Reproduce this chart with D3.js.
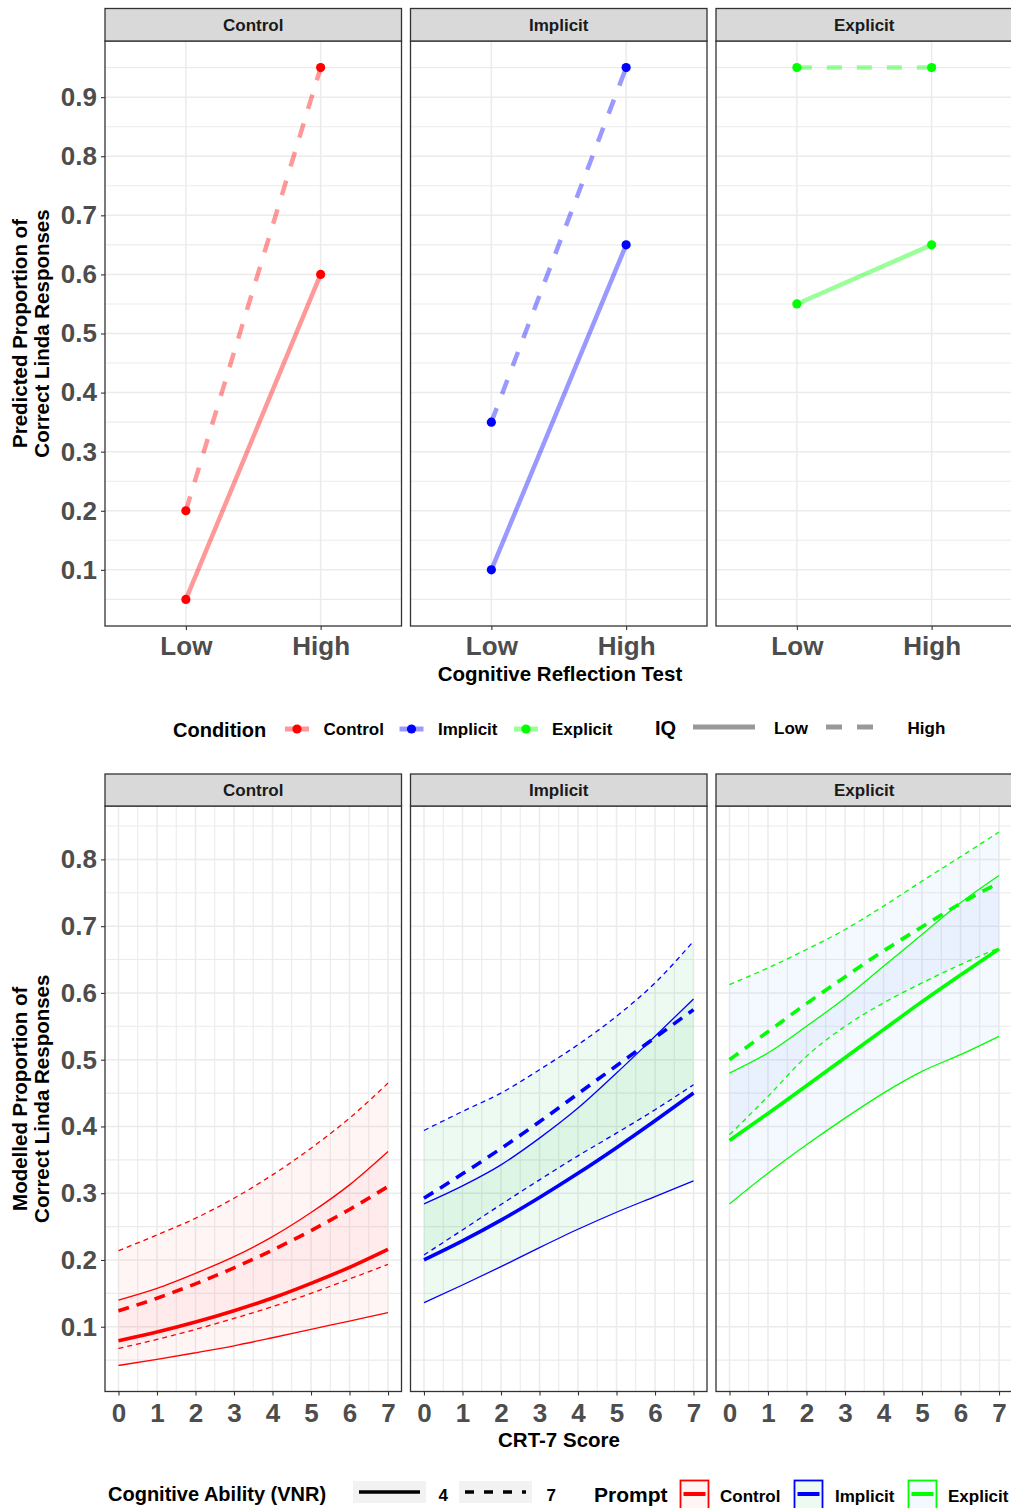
<!DOCTYPE html>
<html><head><meta charset="utf-8">
<script src="https://cdn.jsdelivr.net/npm/d3@7"></script>
<style>body{margin:0;background:#fff} svg{display:block} text{font-family:"Liberation Sans", Arial, Helvetica, sans-serif;}</style>
</head><body><svg id="chart" width="1011" height="1508"></svg>
<script>
// ---------------- DATA ----------------
const conditions = ["Control", "Implicit", "Explicit"];
const crtLevels = ["Low", "High"];
const iqLevels = ["Low", "High"];
// predicted proportion per condition: [CRT Low, CRT High]
const predLowIQ  = [[0.05, 0.60], [0.10, 0.65], [0.55, 0.65]];
const predHighIQ = [[0.20, 0.95], [0.35, 0.95], [0.95, 0.95]];
const topYTicks = [0.1, 0.2, 0.3, 0.4, 0.5, 0.6, 0.7, 0.8, 0.9];

const crtScores = [0, 1, 2, 3, 4, 5, 6, 7];
const bottomYTicks = [0.1, 0.2, 0.3, 0.4, 0.5, 0.6, 0.7, 0.8];
const vnrLevels = ["4", "7"];
// modelled proportions, one row per condition (Control, Implicit, Explicit), CRT 0..7
const vnr4Mean = [
  [0.079, 0.092, 0.107, 0.124, 0.143, 0.165, 0.189, 0.216],
  [0.200, 0.2285, 0.2596, 0.2936, 0.3298, 0.3682, 0.4085, 0.450],
  [0.379, 0.4195, 0.461, 0.503, 0.545, 0.587, 0.627, 0.666]];
const vnr4Upper = [
  [0.140, 0.1575, 0.180, 0.205, 0.235, 0.271, 0.3125, 0.3625],
  [0.284, 0.311, 0.3425, 0.3825, 0.4275, 0.480, 0.535, 0.591],
  [0.480, 0.510, 0.550, 0.5925, 0.640, 0.6875, 0.735, 0.776]];
const vnr4Lower = [
  [0.042, 0.051, 0.061, 0.0715, 0.0835, 0.096, 0.1085, 0.121],
  [0.136, 0.1625, 0.190, 0.2185, 0.246, 0.2715, 0.295, 0.3185],
  [0.284, 0.330, 0.3725, 0.4125, 0.450, 0.4825, 0.5075, 0.535]];
const vnr7Mean = [
  [0.1237, 0.1427, 0.1643, 0.1882, 0.2148, 0.244, 0.2757, 0.310],
  [0.2925, 0.329, 0.367, 0.407, 0.449, 0.491, 0.533, 0.575],
  [0.500, 0.542, 0.584, 0.624, 0.663, 0.699, 0.734, 0.765]];
const vnr7Upper = [
  [0.214, 0.2375, 0.2625, 0.2925, 0.3275, 0.3675, 0.4125, 0.465],
  [0.394, 0.4225, 0.450, 0.485, 0.5225, 0.565, 0.615, 0.6775],
  [0.6125, 0.6375, 0.665, 0.695, 0.730, 0.7675, 0.804, 0.841]];
const vnr7Lower = [
  [0.0675, 0.081, 0.096, 0.1125, 0.130, 0.150, 0.1715, 0.1935],
  [0.2075, 0.245, 0.283, 0.320, 0.356, 0.390, 0.425, 0.4625],
  [0.3875, 0.445, 0.505, 0.550, 0.585, 0.615, 0.6425, 0.6675]];

// ---------------- STYLE ----------------
const lineColors = ["#FF0000", "#0000FF", "#00FF00"];
const fillColors = ["#F8766D", "#00BA38", "#619CFF"];
const PW = 296.5;
const panelLefts = [105, 410.5, 716];
const gridCol = "#EBEBEB";

const svg = d3.select("#chart");
svg.append("rect").attr("width", 1011).attr("height", 1508).attr("fill", "#fff");

function strip(x0, top, bottom, label) {
  svg.append("rect").attr("x", x0).attr("y", top).attr("width", PW).attr("height", bottom - top)
    .attr("fill", "#D9D9D9").attr("stroke", "#333333").attr("stroke-width", 1.3);
  svg.append("text").attr("x", x0 + PW / 2).attr("y", (top + bottom) / 2 + 6)
    .attr("text-anchor", "middle").attr("font-size", 17).attr("font-weight", "bold")
    .attr("fill", "#1A1A1A").text(label);
}
function border(x0, top, bottom) {
  svg.append("rect").attr("x", x0).attr("y", top).attr("width", PW).attr("height", bottom - top)
    .attr("fill", "none").attr("stroke", "#333333").attr("stroke-width", 1.3);
}
function styleAxis(g, size) {
  g.select(".domain").remove();
  g.selectAll(".tick line").attr("stroke", "#333333").attr("stroke-width", 1.1);
  g.selectAll(".tick text").attr("fill", "#4D4D4D").attr("font-size", size).attr("font-weight", "bold")
    .style("font-family", '"Liberation Sans", Arial, sans-serif');
}
function yTitle(x1, x2, cy, l1, l2) {
  [[x1, l1], [x2, l2]].forEach(([x, t]) => {
    svg.append("text").attr("transform", `translate(${x},${cy}) rotate(-90)`)
      .attr("text-anchor", "middle").attr("font-size", 20.5).attr("font-weight", "bold")
      .attr("fill", "#000").text(t);
  });
}

// ================= TOP CHART =================
const tStripTop = 8.5, tTop = 41, tBottom = 626;
const yTop = d3.scaleLinear().domain([0.005, 0.995]).range([tBottom, tTop]);
const topMinor = [0.05, 0.15, 0.25, 0.35, 0.45, 0.55, 0.65, 0.75, 0.85, 0.95];

conditions.forEach((cond, ci) => {
  const x0 = panelLefts[ci];
  const xs = d3.scalePoint().domain(crtLevels).range([x0, x0 + PW]).padding(0.6);
  const g = svg.append("g");
  g.selectAll(".mn").data(topMinor).join("line").attr("x1", x0).attr("x2", x0 + PW)
    .attr("y1", d => yTop(d)).attr("y2", d => yTop(d)).attr("stroke", gridCol).attr("stroke-width", 1.1);
  g.selectAll(".mj").data(topYTicks).join("line").attr("x1", x0).attr("x2", x0 + PW)
    .attr("y1", d => yTop(d)).attr("y2", d => yTop(d)).attr("stroke", gridCol).attr("stroke-width", 1.5);
  g.selectAll(".vx").data(crtLevels).join("line").attr("x1", d => xs(d)).attr("x2", d => xs(d))
    .attr("y1", tTop).attr("y2", tBottom).attr("stroke", gridCol).attr("stroke-width", 1.5);

  const series = [
    {vals: predLowIQ[ci], dash: null},
    {vals: predHighIQ[ci], dash: "15,15"}];
  const line = d3.line().x((d, i) => xs(crtLevels[i])).y(d => yTop(d));
  series.forEach(s => {
    g.append("path").attr("d", line(s.vals)).attr("fill", "none")
      .attr("stroke", lineColors[ci]).attr("stroke-opacity", 0.4).attr("stroke-width", 4.5)
      .attr("stroke-dasharray", s.dash);
  });
  series.forEach(s => {
    g.selectAll(null).data(s.vals).join("circle").attr("cx", (d, i) => xs(crtLevels[i]))
      .attr("cy", d => yTop(d)).attr("r", 4.6).attr("fill", lineColors[ci]);
  });
  border(x0, tTop, tBottom);
  strip(x0, tStripTop, tTop, cond);
  const ax = svg.append("g").attr("transform", `translate(0,${tBottom})`)
    .call(d3.axisBottom(xs).tickSize(4).tickPadding(6.5));
  styleAxis(ax, 26);
});
const ayTop = svg.append("g").attr("transform", `translate(${panelLefts[0]},0)`)
  .call(d3.axisLeft(yTop).tickValues(topYTicks).tickSize(4).tickPadding(4).tickFormat(d3.format(".1f")));
styleAxis(ayTop, 26);
yTitle(27, 48.5, (tTop + tBottom) / 2, "Predicted Proportion of", "Correct Linda Responses");
svg.append("text").attr("x", 560).attr("y", 681).attr("text-anchor", "middle").attr("font-size", 20.5)
  .attr("font-weight", "bold").text("Cognitive Reflection Test");

// top legend
const legY = 729;
svg.append("text").attr("x", 173).attr("y", 737).attr("font-size", 20).attr("font-weight", "bold").text("Condition");
const condKeyX = [285, 399.5, 514], condLabX = [323.5, 438, 552];
conditions.forEach((c, i) => {
  svg.append("line").attr("x1", condKeyX[i]).attr("x2", condKeyX[i] + 24).attr("y1", legY).attr("y2", legY)
    .attr("stroke", lineColors[i]).attr("stroke-opacity", 0.4).attr("stroke-width", 5);
  svg.append("circle").attr("cx", condKeyX[i] + 12).attr("cy", legY).attr("r", 4.6).attr("fill", lineColors[i]);
  svg.append("text").attr("x", condLabX[i]).attr("y", 735).attr("font-size", 17).attr("font-weight", "bold").text(c);
});
svg.append("text").attr("x", 655).attr("y", 735).attr("font-size", 20).attr("font-weight", "bold").text("IQ");
const iqKeyX = [693, 826], iqLabX = [774, 907.5], iqDash = [null, "16,15"];
iqLevels.forEach((l, i) => {
  svg.append("line").attr("x1", iqKeyX[i]).attr("x2", iqKeyX[i] + 62).attr("y1", legY - 2).attr("y2", legY - 2)
    .attr("stroke", "#000").attr("stroke-opacity", 0.4).attr("stroke-width", 5).attr("stroke-dasharray", iqDash[i]);
  svg.append("text").attr("x", iqLabX[i]).attr("y", 734).attr("font-size", 17).attr("font-weight", "bold").text(l);
});

// ================= BOTTOM CHART =================
const bStripTop = 774, bTop = 806, bBottom = 1391.5;
const yBot = d3.scaleLinear().domain([0.003, 0.88]).range([bBottom, bTop]);
const botMinorY = [0.05, 0.15, 0.25, 0.35, 0.45, 0.55, 0.65, 0.75, 0.85];
const botMinorX = [0.5, 1.5, 2.5, 3.5, 4.5, 5.5, 6.5];

conditions.forEach((cond, ci) => {
  const x0 = panelLefts[ci];
  const xs = d3.scaleLinear().domain([-0.35, 7.35]).range([x0, x0 + PW]);
  const g = svg.append("g");
  g.selectAll(".mny").data(botMinorY).join("line").attr("x1", x0).attr("x2", x0 + PW)
    .attr("y1", d => yBot(d)).attr("y2", d => yBot(d)).attr("stroke", gridCol).attr("stroke-width", 1.1);
  g.selectAll(".mjy").data(bottomYTicks).join("line").attr("x1", x0).attr("x2", x0 + PW)
    .attr("y1", d => yBot(d)).attr("y2", d => yBot(d)).attr("stroke", gridCol).attr("stroke-width", 1.5);
  g.selectAll(".mnx").data(botMinorX).join("line").attr("x1", d => xs(d)).attr("x2", d => xs(d))
    .attr("y1", bTop).attr("y2", bBottom).attr("stroke", gridCol).attr("stroke-width", 1.1);
  g.selectAll(".mjx").data(crtScores).join("line").attr("x1", d => xs(d)).attr("x2", d => xs(d))
    .attr("y1", bTop).attr("y2", bBottom).attr("stroke", gridCol).attr("stroke-width", 1.5);

  const groups = [
    {mean: vnr4Mean[ci], lo: vnr4Lower[ci], hi: vnr4Upper[ci], thick: null, thin: null},
    {mean: vnr7Mean[ci], lo: vnr7Lower[ci], hi: vnr7Upper[ci], thick: "11,8", thin: "5,4"}];
  const area = d3.area().x((d, i) => xs(crtScores[i])).y0(d => yBot(d[0])).y1(d => yBot(d[1]))
    .curve(d3.curveMonotoneX);
  const line = d3.line().x((d, i) => xs(crtScores[i])).y(d => yBot(d)).curve(d3.curveMonotoneX);
  groups.forEach(gr => {
    g.append("path").attr("d", area(gr.lo.map((v, i) => [v, gr.hi[i]])))
      .attr("fill", fillColors[ci]).attr("fill-opacity", 0.07);
  });
  groups.forEach(gr => {
    [gr.lo, gr.hi].forEach(arr => {
      g.append("path").attr("d", line(arr)).attr("fill", "none").attr("stroke", lineColors[ci])
        .attr("stroke-width", 1.3).attr("stroke-dasharray", gr.thin);
    });
    g.append("path").attr("d", line(gr.mean)).attr("fill", "none").attr("stroke", lineColors[ci])
      .attr("stroke-width", 3.6).attr("stroke-dasharray", gr.thick);
  });
  border(x0, bTop, bBottom);
  strip(x0, bStripTop, bTop, cond);
  const ax = svg.append("g").attr("transform", `translate(0,${bBottom})`)
    .call(d3.axisBottom(xs).tickValues(crtScores).tickSize(4).tickPadding(8).tickFormat(d3.format("d")));
  styleAxis(ax, 26);
});
const ayBot = svg.append("g").attr("transform", `translate(${panelLefts[0]},0)`)
  .call(d3.axisLeft(yBot).tickValues(bottomYTicks).tickSize(4).tickPadding(4).tickFormat(d3.format(".1f")));
styleAxis(ayBot, 26);
yTitle(27, 48.5, (bTop + bBottom) / 2, "Modelled Proportion of", "Correct Linda Responses");
svg.append("text").attr("x", 559).attr("y", 1447).attr("text-anchor", "middle").attr("font-size", 20.5)
  .attr("font-weight", "bold").text("CRT-7 Score");

// bottom legend
svg.append("text").attr("x", 108).attr("y", 1501).attr("font-size", 20).attr("font-weight", "bold")
  .text("Cognitive Ability (VNR)");
const vnrBoxX = [353, 459], vnrLabX = [438.5, 546.5], vnrDash = [null, "9,10"];
vnrLevels.forEach((v, i) => {
  svg.append("rect").attr("x", vnrBoxX[i]).attr("y", 1481).attr("width", 73).attr("height", 22).attr("fill", "#F2F2F2");
  svg.append("line").attr("x1", vnrBoxX[i] + 6).attr("x2", vnrBoxX[i] + 67).attr("y1", 1492).attr("y2", 1492)
    .attr("stroke", "#000").attr("stroke-width", 3.6).attr("stroke-dasharray", vnrDash[i]);
  svg.append("text").attr("x", vnrLabX[i]).attr("y", 1501).attr("font-size", 17).attr("font-weight", "bold").text(v);
});
svg.append("text").attr("x", 594).attr("y", 1502).attr("font-size", 21).attr("font-weight", "bold").text("Prompt");
const promptBoxX = [680.5, 794.5, 908.5], promptLabX = [720, 835, 948];
conditions.forEach((c, i) => {
  svg.append("rect").attr("x", promptBoxX[i]).attr("y", 1480.5).attr("width", 28).attr("height", 30)
    .attr("fill", fillColors[i]).attr("fill-opacity", 0.07).attr("stroke", lineColors[i]).attr("stroke-width", 1.8);
  svg.append("line").attr("x1", promptBoxX[i] + 3).attr("x2", promptBoxX[i] + 25).attr("y1", 1494).attr("y2", 1494)
    .attr("stroke", lineColors[i]).attr("stroke-width", 4);
  svg.append("text").attr("x", promptLabX[i]).attr("y", 1502).attr("font-size", 17).attr("font-weight", "bold").text(c);
});
</script></body></html>
